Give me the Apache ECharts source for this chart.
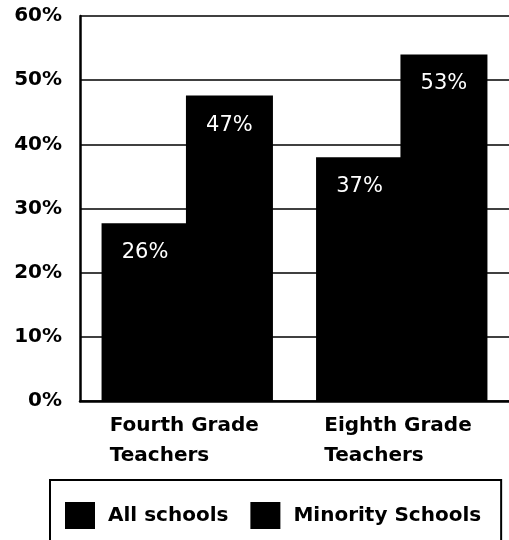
<!DOCTYPE html>
<html><head><meta charset="utf-8">
<script src="https://cdn.jsdelivr.net/npm/echarts@6/dist/echarts.min.js"></script>
<style>html,body{margin:0;padding:0;background:#fff}#c{width:509px;height:540px}</style>
</head><body><div id="c"></div>
<script>
const categories = ['Fourth Grade\nTeachers', 'Eighth Grade\nTeachers'];
const seriesNames = ['All schools', 'Minority Schools'];
const allSchools = [27.7, 38.0];
const minoritySchools = [47.6, 54.0];
const allLabels = ['26%', '37%'];
const minorityLabels = ['47%', '53%'];
const yTicks = [0, 10, 20, 30, 40, 50, 60];

const FONT = '"DejaVu Sans"';
const chart = echarts.init(document.getElementById('c'), null, {renderer: 'canvas'});
function mkLabel(arr) {
  return {
    show: true, position: 'insideTop', distance: 19, color: '#fff',
    fontFamily: FONT, fontSize: 21, fontWeight: 'normal',
    formatter: p => arr[p.dataIndex]
  };
}
chart.setOption({
  animation: false,
  grid: {left: 80, right: 0, top: 16, bottom: 139, containLabel: false},
  legend: {
    data: seriesNames, left: 50, top: 480,
    orient: 'horizontal', icon: 'rect', itemWidth: 30, itemHeight: 27, itemGap: 22,
    borderColor: '#000', borderWidth: 2, padding: [22, 20, 40, 15],
    textStyle: {fontFamily: FONT, fontSize: 20, fontWeight: 'bold', color: '#000', padding: [0, 0, 0, 8]}
  },
  xAxis: {
    type: 'category', data: categories,
    axisLine: {lineStyle: {color: '#000', width: 2.5}},
    axisTick: {show: false},
    axisLabel: {
      margin: 10, interval: 0, color: '#000',
      formatter: v => v.split('\n').map(s => '{a|' + s + '}').join('\n'),
      rich: {a: {width: 155, align: 'left', fontFamily: FONT, fontSize: 20, fontWeight: 'bold', lineHeight: 30, color: '#000'}}
    }
  },
  yAxis: {
    type: 'value', min: 0, max: 60, interval: 10,
    axisLine: {show: true, lineStyle: {color: '#000', width: 2.5}},
    axisTick: {show: false},
    splitLine: {lineStyle: {color: '#000', width: 1.6}},
    axisLabel: {
      margin: 18, color: '#000', fontFamily: FONT, fontSize: 20, fontWeight: 'bold',
      formatter: v => yTicks.includes(v) ? v + '%' : ''
    }
  },
  series: [
    {name: seriesNames[0], type: 'bar', data: allSchools, barWidth: 87, barGap: '-3%',
     itemStyle: {color: '#000'}, label: mkLabel(allLabels)},
    {name: seriesNames[1], type: 'bar', data: minoritySchools, barWidth: 87, barGap: '-3%',
     itemStyle: {color: '#000'}, label: mkLabel(minorityLabels)}
  ]
});
</script></body></html>
